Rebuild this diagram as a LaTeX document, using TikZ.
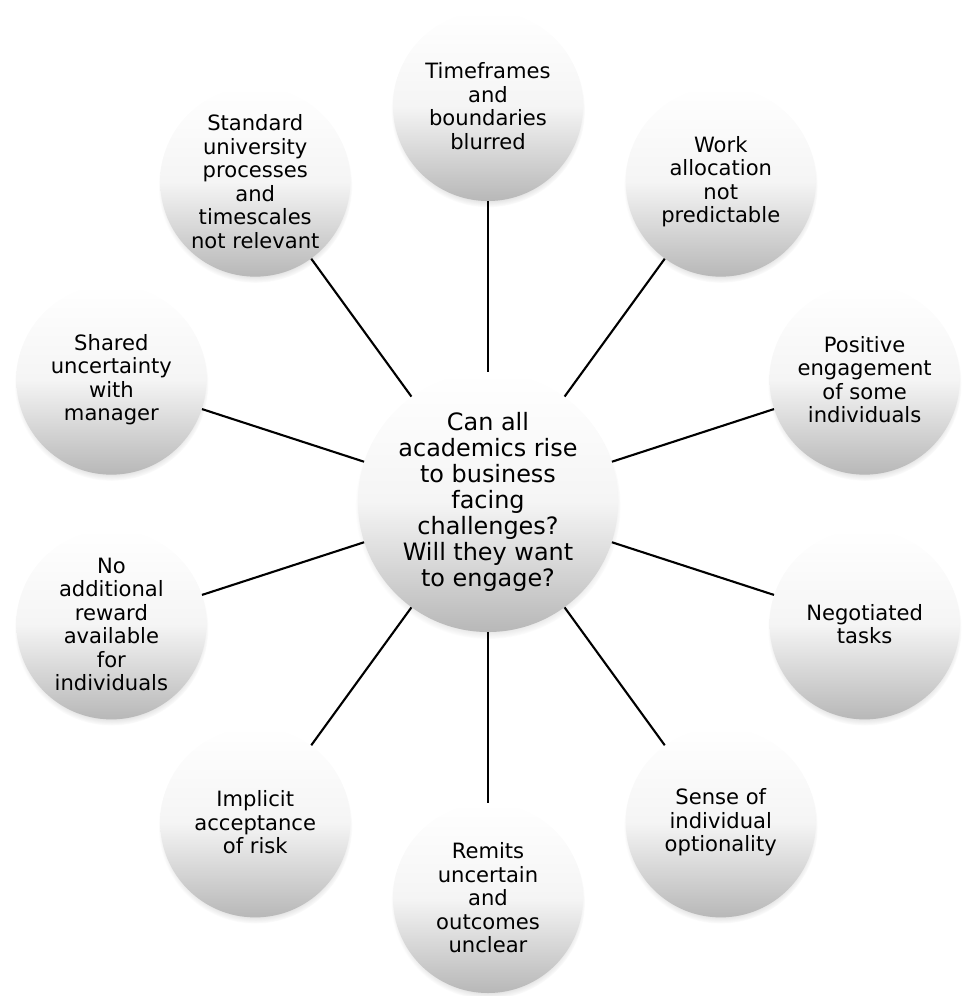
\documentclass[tikz,border=0pt]{standalone}
\usepackage{fontspec}
\setmainfont{DejaVu Sans}
\usetikzlibrary{calc,shadows,fadings}

\begin{document}
\begin{tikzpicture}[x=0.025cm, y=0.025cm,
    bubble/.style={circle, inner sep=0pt, minimum size=4.75cm, align=center,
        top color=white, bottom color=black!28, middle color=black!4,
        font=\fontsize{15}{16.7}\selectfont,
        circular drop shadow={shadow xshift=0pt, shadow yshift=-3pt, shadow scale=1.02, opacity=0.45}},
    hub/.style={bubble, minimum size=6.5cm, font=\fontsize{17}{18.5}\selectfont},
    link/.style={line width=1.5pt, black}]
        \useasboundingbox (0,0) rectangle (962,996);
        %%Hub
        \coordinate (C) at (488,494);
        \node[hub] (hub) at (C) {Can all\\academics rise\\to business\\facing\\challenges?\\Will they want\\to engage?};
        %%Outer circles
        \node[bubble] (time) at ($(C)+(90:396)$) {Timeframes\\and\\boundaries\\blurred};
        \node[bubble] (work) at ($(C)+(54:396)$) {Work\\allocation\\not\\predictable};
        \node[bubble] (pos) at ($(C)+(18:396)$) {Positive\\engagement\\of some\\individuals};
        \node[bubble] (nego) at ($(C)+(-18:396)$) {Negotiated\\tasks};
        \node[bubble] (sense) at ($(C)+(-54:396)$) {Sense of\\individual\\optionality};
        \node[bubble] (remit) at ($(C)+(-90:396)$) {Remits\\uncertain\\and\\outcomes\\unclear};
        \node[bubble] (risk) at ($(C)+(-126:396)$) {Implicit\\acceptance\\of risk};
        \node[bubble] (reward) at ($(C)+(-162:396)$) {No\\additional\\reward\\available\\for\\individuals};
        \node[bubble] (shared) at ($(C)+(162:396)$) {Shared\\uncertainty\\with\\manager};
        \node[bubble] (std) at ($(C)+(126:396)$) {Standard\\university\\processes\\and\\timescales\\not relevant};
        %%Links
        \draw[link] (hub) to (time);
        \draw[link] (hub) to (work);
        \draw[link] (hub) to (pos);
        \draw[link] (hub) to (nego);
        \draw[link] (hub) to (sense);
        \draw[link] (hub) to (remit);
        \draw[link] (hub) to (risk);
        \draw[link] (hub) to (reward);
        \draw[link] (hub) to (shared);
        \draw[link] (hub) to (std);
    \end{tikzpicture}
\end{document}
